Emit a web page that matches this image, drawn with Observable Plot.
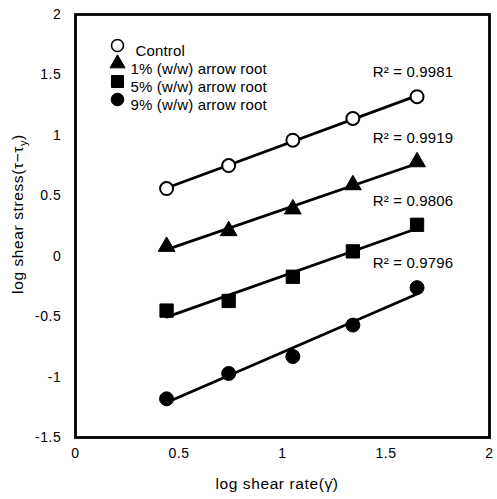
<!DOCTYPE html>
<html><head><meta charset="utf-8">
<script src="https://cdn.jsdelivr.net/npm/d3@7"></script>
<script src="https://cdn.jsdelivr.net/npm/@observablehq/plot@0.6"></script>
<style>body{margin:0;background:#fff}</style>
</head><body><div id="chart"></div>
<script>
// log shear rate (x) for each measurement
const logShearRate = [0.44, 0.74, 1.05, 1.34, 1.65];
// log shear stress (tau - tau_y) for each series
const control = [0.56, 0.75, 0.96, 1.14, 1.32];
const arrowRoot1 = [0.08, 0.21, 0.39, 0.59, 0.78];
const arrowRoot5 = [-0.45, -0.37, -0.17, 0.04, 0.26];
const arrowRoot9 = [-1.18, -0.97, -0.83, -0.57, -0.26];
const seriesNames = ["Control", "1% (w/w) arrow root", "5% (w/w) arrow root", "9% (w/w) arrow root"];
const rSquared = ["0.9981", "0.9919", "0.9806", "0.9796"];
const xTicks = [0, 0.5, 1, 1.5, 2];
const yTicks = [-1.5, -1, -0.5, 0, 0.5, 1, 1.5, 2];

const seriesValues = [control, arrowRoot1, arrowRoot5, arrowRoot9];
const symbols = [
  {symbol: "circle", fill: "white", r: 6.5, lr: 6},
  {symbol: "triangle", fill: "black", r: 6.2, lr: 5.6},
  {symbol: "square", fill: "black", r: 7.5, lr: 6.8},
  {symbol: "circle", fill: "black", r: 7, lr: 6.3}
];

const data = seriesValues.flatMap((vals, s) =>
  vals.map((v, i) => ({series: seriesNames[s], s, x: logShearRate[i], y: v})));
const lastPoints = seriesValues.map((vals, s) =>
  ({s, x: logShearRate[logShearRate.length - 1], y: vals[vals.length - 1], r2: rSquared[s]}));

const FONT = "'Liberation Sans', Arial, Helvetica, sans-serif";

const marks = [
  Plot.linearRegressionY(data, {x: "x", y: "y", z: "series", stroke: "black", strokeWidth: 2.8, ci: 0})
];
symbols.forEach((sym, s) => {
  marks.push(Plot.dot(data.filter(d => d.s === s), {
    x: "x", y: "y", symbol: sym.symbol, r: sym.r, fill: sym.fill,
    stroke: "black", strokeWidth: sym.fill === "white" ? 2 : 1
  }));
  // legend entry
  marks.push(Plot.dot([seriesNames[s]], {
    frameAnchor: "top-left", dx: 42, dy: 31 + s * 18,
    symbol: sym.symbol, r: sym.lr, fill: sym.fill,
    stroke: "black", strokeWidth: sym.fill === "white" ? 1.6 : 1
  }));
  marks.push(Plot.text([seriesNames[s]], {
    frameAnchor: "top-left", dx: s === 0 ? 60 : 55, dy: 31 + s * 18,
    text: d => d, textAnchor: "start", fontSize: 15, fill: "black",
    style: {letterSpacing: "0px"}
  }));
});
marks.push(Plot.text(lastPoints, {
  x: "x", y: "y", dx: -4, dy: -24, text: d => "R² = " + d.r2,
  fontSize: 15, fill: "black"
}));
marks.push(Plot.frame({stroke: "black", strokeWidth: 2.8}));

const plot = Plot.plot({
  width: 497,
  height: 499,
  marginLeft: 75,
  marginRight: 8,
  marginTop: 14,
  marginBottom: 62,
  style: {fontFamily: FONT, fontSize: "14px", background: "white", color: "black", letterSpacing: "0.6px"},
  x: {domain: [0, 2], ticks: xTicks, tickSize: 0, tickPadding: 11, label: null, tickFormat: d => String(d)},
  y: {domain: [-1.5, 2], ticks: yTicks, tickSize: 0, tickPadding: 14, label: null, tickFormat: d => String(d)},
  marks
});

const svg = d3.select(plot);
// legend and R² text: tighter spacing than the axis text
svg.selectAll("g[aria-label='text'] text").style("letter-spacing", "0.15px");

const yl = svg.append("text")
  .attr("transform", "translate(23,214) rotate(-90)")
  .attr("text-anchor", "middle")
  .attr("font-size", 15.5)
  .attr("fill", "black");
yl.append("tspan").text("log shear stress(τ−τ");
yl.append("tspan").attr("font-size", 11).attr("dy", 4).text("y");
yl.append("tspan").attr("dy", -4).text(")");

svg.append("text")
  .attr("x", 277).attr("y", 489)
  .attr("text-anchor", "middle")
  .attr("font-size", 15.5)
  .attr("fill", "black")
  .text("log shear rate(γ̇)");

document.getElementById("chart").appendChild(plot);
</script>
</body></html>
